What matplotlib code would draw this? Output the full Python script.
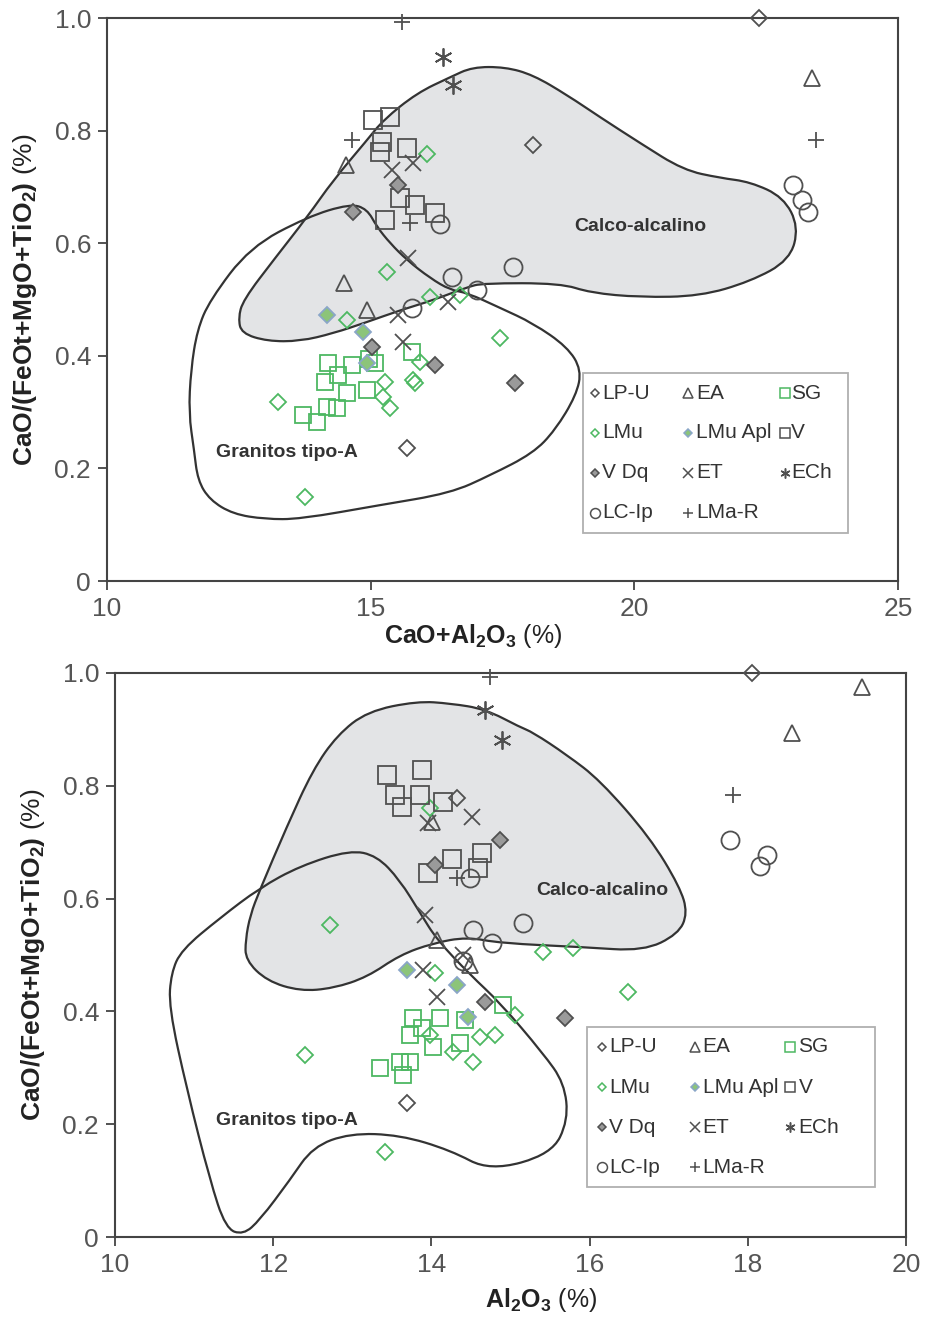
import matplotlib.pyplot as plt
from matplotlib.patches import PathPatch, Rectangle
from matplotlib.path import Path

plt.rcParams['font.family'] = ['Liberation Sans', 'DejaVu Sans']
plt.rcParams['mathtext.fontset'] = 'custom'
plt.rcParams['mathtext.rm'] = 'Liberation Sans'
plt.rcParams['mathtext.bf'] = 'Liberation Sans:bold'

# ---- upper diagram: CaO+Al2O3 vs CaO/(FeOt+MgO+TiO2)
lpu_a = [(22.37, 1.0), (18.08, 0.774), (15.69, 0.236)]
ea_a = [(23.38, 0.893), (14.54, 0.739), (14.50, 0.529), (14.93, 0.481)]
sg_a = [(14.19, 0.387), (14.65, 0.384), (15.09, 0.387), (14.38, 0.366), (14.14, 0.354),
        (14.55, 0.334), (14.93, 0.339), (14.17, 0.309), (14.36, 0.307), (13.72, 0.295),
        (13.98, 0.282), (15.79, 0.407), (14.97, 0.395)]
lmu_a = [(16.07, 0.758), (15.31, 0.549), (14.55, 0.464), (16.13, 0.505), (16.70, 0.508),
         (17.46, 0.432), (13.25, 0.318), (13.76, 0.149), (15.27, 0.354), (15.24, 0.327),
         (15.37, 0.307), (15.81, 0.357), (15.84, 0.352), (15.94, 0.389)]
lmuapl_a = [(14.17, 0.472), (14.86, 0.442), (14.93, 0.387)]
v_a = [(15.05, 0.819), (15.37, 0.824), (15.22, 0.780), (15.18, 0.762), (15.69, 0.769),
       (15.56, 0.680), (15.84, 0.668), (16.22, 0.653), (15.28, 0.641)]
vdq_a = [(15.52, 0.703), (14.67, 0.655), (15.03, 0.416), (16.22, 0.384), (17.74, 0.352)]
et_a = [(15.41, 0.730), (15.81, 0.742), (15.71, 0.574), (15.52, 0.472), (15.62, 0.425), (16.47, 0.496)]
ech_a = [(16.38, 0.931), (16.57, 0.881)]
lcip_a = [(23.02, 0.703), (23.19, 0.677), (23.30, 0.655), (17.70, 0.558), (16.32, 0.634),
          (16.55, 0.540), (17.02, 0.517), (15.79, 0.485)]
lmar_a = [(15.60, 0.993), (14.65, 0.783), (15.75, 0.636), (23.45, 0.783)]

calco_a = [(12.49, 0.467), (12.58, 0.499), (13.19, 0.574), (13.80, 0.647), (14.29, 0.712),
           (14.93, 0.783), (15.24, 0.819), (15.88, 0.867), (16.51, 0.895), (16.93, 0.913),
           (17.55, 0.913), (18.08, 0.899), (18.73, 0.863), (19.35, 0.824), (20.11, 0.778),
           (20.93, 0.730), (21.63, 0.716), (22.20, 0.709), (22.83, 0.682), (23.12, 0.629),
           (22.95, 0.570), (22.20, 0.532), (21.25, 0.506), (20.11, 0.504), (19.17, 0.512),
           (18.60, 0.529), (17.13, 0.529), (16.83, 0.522), (16.19, 0.499), (15.56, 0.481),
           (14.93, 0.460), (14.29, 0.440), (13.66, 0.426), (13.04, 0.426), (12.55, 0.440)]
granito_a = [(11.71, 0.446), (11.95, 0.499), (12.71, 0.593), (13.80, 0.647), (14.61, 0.670),
             (14.93, 0.661), (15.12, 0.629), (15.37, 0.600), (15.69, 0.570), (16.13, 0.538),
             (16.51, 0.517), (16.83, 0.512), (17.46, 0.485), (18.08, 0.458), (18.73, 0.416),
             (19.00, 0.375), (18.90, 0.330), (18.50, 0.268), (18.08, 0.227), (17.27, 0.188),
             (16.51, 0.156), (15.18, 0.135), (13.66, 0.110), (13.00, 0.110), (12.39, 0.119),
             (11.95, 0.144), (11.72, 0.179), (11.65, 0.233), (11.55, 0.298), (11.59, 0.375)]

# ---- lower diagram: Al2O3 vs CaO/(FeOt+MgO+TiO2)
lpu_b = [(18.05, 1.0), (14.32, 0.778), (13.69, 0.238)]
ea_b = [(19.44, 0.975), (18.56, 0.894), (14.01, 0.736), (14.07, 0.527), (14.49, 0.482)]
sg_b = [(13.77, 0.388), (14.11, 0.388), (14.42, 0.385), (14.91, 0.411), (13.88, 0.371),
        (13.73, 0.358), (14.02, 0.337), (14.36, 0.344), (13.73, 0.310), (13.60, 0.310),
        (13.35, 0.300), (13.64, 0.287)]
lmu_b = [(12.72, 0.553), (13.98, 0.761), (15.41, 0.505), (15.79, 0.512), (16.49, 0.434),
         (12.40, 0.323), (13.41, 0.151), (14.05, 0.468), (15.06, 0.394), (14.80, 0.358),
         (14.61, 0.355), (14.27, 0.328), (14.53, 0.310), (13.98, 0.358)]
lmuapl_b = [(13.69, 0.473), (14.32, 0.447), (14.46, 0.390)]
v_b = [(13.44, 0.819), (13.88, 0.828), (13.54, 0.784), (13.86, 0.784), (13.63, 0.762),
       (14.15, 0.771), (14.26, 0.670), (14.64, 0.681), (13.96, 0.645), (14.59, 0.654)]
vdq_b = [(14.87, 0.704), (14.05, 0.660), (14.68, 0.417), (15.69, 0.388)]
et_b = [(14.51, 0.745), (13.96, 0.734), (13.92, 0.571), (13.90, 0.473), (14.07, 0.426), (14.40, 0.500)]
ech_b = [(14.68, 0.934), (14.89, 0.881)]
lcip_b = [(17.77, 0.704), (18.24, 0.677), (18.15, 0.658), (15.16, 0.557), (14.49, 0.637),
          (14.53, 0.544), (14.77, 0.521), (14.40, 0.490)]
lmar_b = [(14.74, 0.993), (17.81, 0.784), (14.32, 0.636)]

calco_b = [(12.81, 0.890), (13.19, 0.932), (13.82, 0.950), (14.24, 0.946), (14.68, 0.936),
           (15.12, 0.904), (15.28, 0.895), (15.71, 0.855), (16.13, 0.810), (16.76, 0.709),
           (17.14, 0.621), (17.24, 0.574), (17.12, 0.537), (16.68, 0.507), (15.92, 0.514),
           (14.87, 0.521), (14.45, 0.532), (14.02, 0.521), (13.60, 0.500), (13.19, 0.461),
           (12.76, 0.441), (12.34, 0.436), (11.92, 0.454), (11.65, 0.491), (11.65, 0.527),
           (11.71, 0.571), (11.83, 0.615), (12.17, 0.727), (12.50, 0.828)]
granito_b = [(10.84, 0.509), (11.33, 0.566), (11.83, 0.619), (12.34, 0.658), (12.97, 0.686),
             (13.31, 0.676), (13.60, 0.633), (13.86, 0.574), (14.07, 0.527), (14.49, 0.465),
             (14.87, 0.415), (15.41, 0.326), (15.68, 0.273), (15.73, 0.207), (15.52, 0.147),
             (14.74, 0.117), (14.24, 0.154), (13.60, 0.181), (12.97, 0.184), (12.50, 0.160),
             (12.21, 0.101), (11.83, 0.030), (11.62, 0.004), (11.40, 0.015), (11.20, 0.101),
             (10.91, 0.261), (10.68, 0.408), (10.71, 0.468)]

yticks = [0, 0.2, 0.4, 0.6, 0.8, 1.0]
yticklabels = ['0', '0.2', '0.4', '0.6', '0.8', '1.0']
xticks_a = [10, 15, 20, 25]
xticks_b = [10, 12, 14, 16, 18, 20]
legend_rows = [['LP-U', 'EA', 'SG'], ['LMu', 'LMu Apl', 'V'], ['V Dq', 'ET', 'ECh'], ['LC-Ip', 'LMa-R']]

DK = '#505050'
GR = '#4db862'
# label: marker, size, face, edge
styles = {
    'LP-U': ('D', 8, 'none', DK),
    'EA': ('^', 12, 'none', DK),
    'SG': ('s', 12, 'none', GR),
    'LMu': ('D', 8, 'none', GR),
    'LMu Apl': ('D', 8, '#8cc47a', '#8aa6c8'),
    'V': ('s', 13, 'none', DK),
    'V Dq': ('D', 8, '#9a9a9a', DK),
    'ET': ('x', 12, 'none', DK),
    'ECh': ((6, 2, 0), 13, 'none', DK),
    'LC-Ip': ('o', 13, 'none', DK),
    'LMa-R': ('+', 12, 'none', DK),
}


def smooth(pts):
    # closed outline drawn as quadratic bezier through the edge midpoints
    n = len(pts)
    mids = [((pts[i][0] + pts[(i + 1) % n][0]) / 2, (pts[i][1] + pts[(i + 1) % n][1]) / 2) for i in range(n)]
    verts = [mids[-1]]
    codes = [Path.MOVETO]
    for i in range(n):
        verts += [pts[i], mids[i]]
        codes += [Path.CURVE3, Path.CURVE3]
    verts.append(mids[-1])
    codes.append(Path.CLOSEPOLY)
    return Path(verts, codes)


def draw(ax, series, calco, granito, xlim, xticks, xlabel, xlab_pos, calco_txt, gran_txt,
         box, row_y, mark_x, text_x):
    ax.add_patch(PathPatch(smooth(calco), facecolor='#e3e4e6', edgecolor='none', zorder=1))
    ax.add_patch(PathPatch(smooth(calco), fill=False, edgecolor='#333333', lw=1.6, zorder=2))
    ax.add_patch(PathPatch(smooth(granito), fill=False, edgecolor='#333333', lw=1.6, zorder=2))
    for name, pts in series.items():
        m, s, fc, ec = styles[name]
        xs = [p[0] for p in pts]
        ys = [p[1] for p in pts]
        ax.plot(xs, ys, linestyle='none', marker=m, markersize=s, markerfacecolor=fc,
                markeredgecolor=ec, markeredgewidth=1.3, clip_on=False, zorder=3)
    ax.text(calco_txt[0], calco_txt[1], 'Calco-alcalino', fontsize=14, fontweight='bold',
            color='#333333', ha='center', va='center', zorder=4)
    ax.text(gran_txt[0], gran_txt[1], 'Granitos tipo-A', fontsize=14, fontweight='bold',
            color='#333333', ha='center', va='center', zorder=4)
    ax.set_xlim(*xlim)
    ax.set_ylim(0, 1.0)
    ax.set_xticks(xticks)
    ax.set_xticklabels([str(t) for t in xticks])
    ax.set_yticks(yticks)
    ax.set_yticklabels(yticklabels)
    ax.tick_params(labelsize=19, labelcolor='#555555', color='#444444', direction='out',
                   length=6.5, width=1.3, pad=5)
    for sp in ax.spines.values():
        sp.set_color('#444444')
        sp.set_linewidth(1.5)
    ax.set_xlabel(xlabel, fontsize=18, color='#222222')
    ax.xaxis.set_label_coords(xlab_pos[0], xlab_pos[1])
    ax.set_ylabel(r'$\mathbf{CaO/(FeOt{+}MgO{+}TiO_2)}$ (%)', fontsize=19, color='#222222')
    ax.yaxis.set_label_coords(-0.086, 0.5)

    # legend box, laid out like the original one
    ax.add_patch(Rectangle((box[0], box[1]), box[2] - box[0], box[3] - box[1], transform=ax.transAxes,
                           facecolor='white', edgecolor='#b0b0b0', lw=1.3, zorder=5, clip_on=False))
    for r, row in enumerate(legend_rows):
        for c, name in enumerate(row):
            m, s, fc, ec = styles[name]
            ax.plot([mark_x[c]], [row_y[r]], transform=ax.transAxes, linestyle='none', marker=m,
                    markersize=s * 0.55, markerfacecolor=fc, markeredgecolor=ec, markeredgewidth=1.1,
                    clip_on=False, zorder=6)
            ax.text(text_x[c], row_y[r], name, transform=ax.transAxes, fontsize=15, color='#333333',
                    ha='left', va='center', zorder=6)


fig = plt.figure(figsize=(9.26, 13.17), dpi=100)
ax1 = fig.add_axes([0.1156, 0.5588, 0.854, 0.4275])
ax2 = fig.add_axes([0.1242, 0.0607, 0.8542, 0.4283])

series_a = {'LP-U': lpu_a, 'EA': ea_a, 'SG': sg_a, 'LMu': lmu_a, 'LMu Apl': lmuapl_a, 'V': v_a,
            'V Dq': vdq_a, 'ET': et_a, 'ECh': ech_a, 'LC-Ip': lcip_a, 'LMa-R': lmar_a}
series_b = {'LP-U': lpu_b, 'EA': ea_b, 'SG': sg_b, 'LMu': lmu_b, 'LMu Apl': lmuapl_b, 'V': v_b,
            'V Dq': vdq_b, 'ET': et_b, 'ECh': ech_b, 'LC-Ip': lcip_b, 'LMa-R': lmar_b}

draw(ax1, series_a, calco_a, granito_a, (10, 25), xticks_a, r'$\mathbf{CaO{+}Al_2O_3}$ (%)',
     (0.463, -0.072), (20.11, 0.629), (13.42, 0.229),
     (0.602, 0.085, 0.937, 0.369), [0.334, 0.263, 0.192, 0.121],
     [0.617, 0.735, 0.857], [0.626, 0.745, 0.865])
draw(ax2, series_b, calco_b, granito_b, (10, 20), xticks_b, r'$\mathbf{Al_2O_3}$ (%)',
     (0.539, -0.086), (16.16, 0.615), (12.17, 0.207),
     (0.597, 0.089, 0.961, 0.372), [0.337, 0.266, 0.195, 0.124],
     [0.616, 0.733, 0.853], [0.625, 0.743, 0.864])

fig.savefig('out.png', dpi=100)
